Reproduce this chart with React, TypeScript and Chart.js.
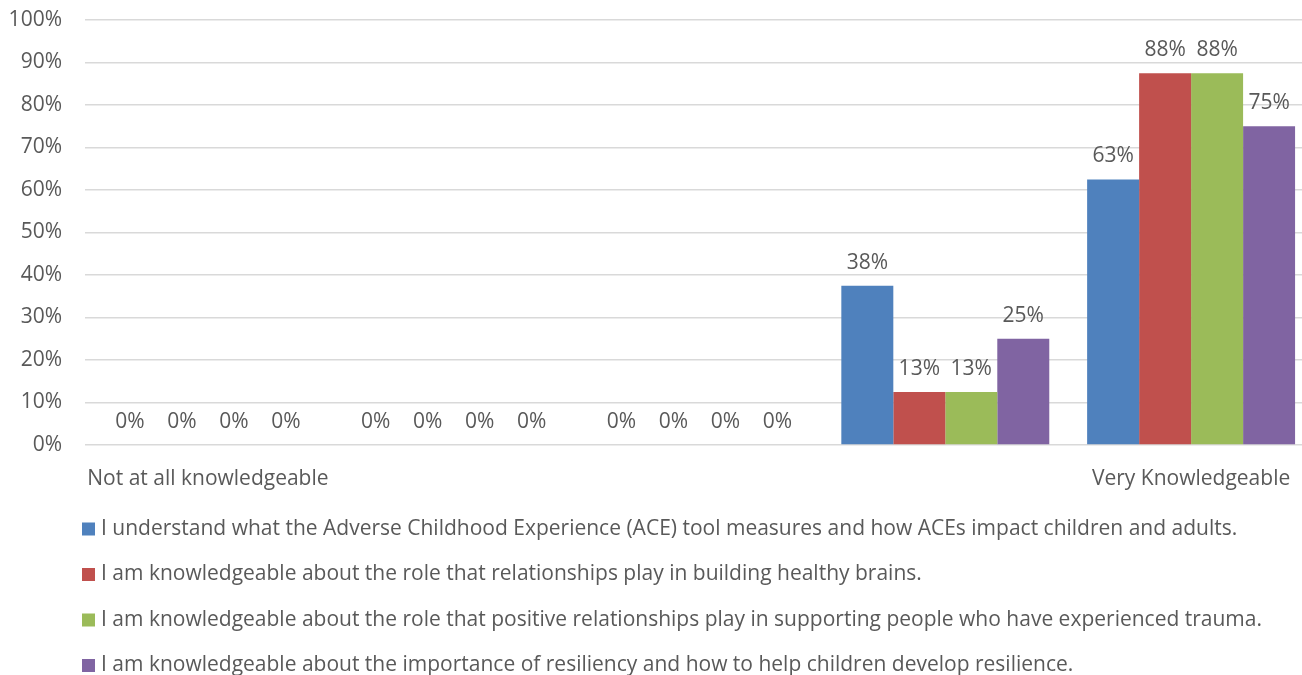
import React, { useEffect, useRef } from "react";
import { Chart, registerables } from "chart.js";

Chart.register(...registerables);

const categories = ["Not at all knowledgeable", "", "", "", "Very Knowledgeable"];
const seriesNames = [
  "I understand what the Adverse Childhood Experience (ACE) tool measures and how ACEs impact children and adults.",
  "I am knowledgeable about the role that relationships play in building healthy brains.",
  "I am knowledgeable about the role that positive relationships play in supporting people who have experienced trauma.",
  "I am knowledgeable about the importance of resiliency and how to help children develop resilience.",
];
const aceValues = [0, 0, 0, 37.5, 62.5];
const brainValues = [0, 0, 0, 12.5, 87.5];
const traumaValues = [0, 0, 0, 12.5, 87.5];
const resilienceValues = [0, 0, 0, 25, 75];
const colors = ["#4F81BD", "#C0504D", "#9BBB59", "#8064A2"];

const FONT = "'Open Sans', sans-serif";
const FS = 21;
const TXT = "#595959";

const labelPlugin = {
  id: "valueLabels",
  afterDatasetsDraw(chart: any) {
    const ctx = chart.ctx;
    ctx.save();
    ctx.font = `${FS}px ${FONT}`;
    ctx.fillStyle = TXT;
    ctx.textAlign = "center";
    ctx.textBaseline = "middle";
    chart.data.datasets.forEach((ds: any, i: number) => {
      const meta = chart.getDatasetMeta(i);
      meta.data.forEach((el: any, j: number) => {
        const v = ds.data[j];
        ctx.fillText(Math.round(v) + "%", el.x, el.y - 23);
      });
    });
    ctx.restore();
  },
};

const legendPlugin = {
  id: "customLegend",
  afterDraw(chart: any) {
    const ctx = chart.ctx;
    ctx.save();
    ctx.font = `${FS}px ${FONT}`;
    ctx.textBaseline = "middle";
    ctx.textAlign = "left";
    const top = chart.scales.x.bottom + 39;
    chart.data.datasets.forEach((ds: any, i: number) => {
      const y = top + i * 45.5;
      ctx.fillStyle = ds.backgroundColor;
      ctx.fillRect(82, y - 6.5, 13, 13);
      ctx.fillStyle = TXT;
      ctx.fillText(ds.label, 101, y);
    });
    ctx.restore();
  },
};

export default function App() {
  const ref = useRef<HTMLCanvasElement>(null);
  useEffect(() => {
    document.body.style.margin = "0";
    document.body.style.overflow = "hidden";
    const seriesData = [aceValues, brainValues, traumaValues, resilienceValues];
    const chart = new Chart(ref.current!, {
      type: "bar",
      data: {
        labels: categories,
        datasets: seriesData.map((d, i) => ({
          label: seriesNames[i],
          data: d,
          backgroundColor: colors[i],
          borderWidth: 0,
          categoryPercentage: 0.846,
          barPercentage: 1.0,
        })),
      },
      options: {
        animation: false,
        responsive: false,
        layout: { padding: { top: 20, left: 0, right: 6, bottom: 185 } },
        plugins: {
          legend: { display: false },
          tooltip: { enabled: false },
        },
        scales: {
          x: {
            grid: { display: false, drawTicks: false },
            border: { display: false },
            ticks: {
              color: TXT,
              font: { family: FONT, size: FS },
              padding: 21,
              maxRotation: 0,
              autoSkip: false,
            },
            afterFit: (s: any) => {
              s.height = 45;
              s.paddingLeft = 0;
              s.paddingRight = 0;
            },
          },
          y: {
            min: 0,
            max: 100,
            grid: { color: "#D9D9D9", lineWidth: 1.5, drawTicks: false },
            border: { display: false },
            ticks: {
              stepSize: 10,
              color: TXT,
              font: { family: FONT, size: FS },
              padding: 23,
              callback: (v: any) => v + "%",
            },
            afterFit: (s: any) => {
              s.width = 85;
              s.paddingTop = 0;
              s.paddingBottom = 0;
            },
          },
        },
      },
      plugins: [labelPlugin, legendPlugin],
    });
    return () => chart.destroy();
  }, []);
  return (
    <div style={{ position: "fixed", left: 0, top: 0, width: 1302, height: 675, overflow: "hidden", background: "#fff" }}>
      <canvas ref={ref} width={1320} height={675} style={{ width: 1320, height: 675, display: "block" }} />
    </div>
  );
}
